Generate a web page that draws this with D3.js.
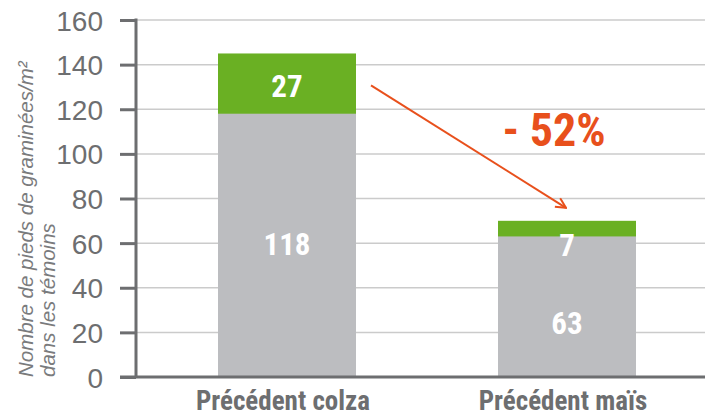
<!DOCTYPE html>
<html>
<head>
<meta charset="utf-8">
<script src="https://d3js.org/d3.v7.min.js"></script>
<style>
  body { margin: 0; background: #fff; }
  text { font-family: "Liberation Sans Narrow", "Roboto Condensed", "Arial Narrow", sans-serif; }
</style>
</head>
<body>
<svg width="705" height="418"></svg>
<script>
// data
var categories = ["Précédent colza", "Précédent maïs"];
var grayValues = [118, 63];
var greenValues = [27, 7];
var yTicks = [0, 20, 40, 60, 80, 100, 120, 140, 160];
var changeLabel = "- 52%";

var svg = d3.select("svg");
var gray = "#bcbdc0", green = "#6ab023", orange = "#e8501c", dark = "#6d6e70";

var x = d3.scaleBand().domain(categories).range([147, 707]).paddingInner(0.507).paddingOuter(0.25).round(true);
var y = d3.scaleLinear().domain([0, 160]).range([377, 20]);

// grid lines
svg.selectAll(".grid").data(yTicks.slice(1)).enter().append("line")
    .attr("x1", 136).attr("x2", 705)
    .attr("y1", function (d) { return y(d); })
    .attr("y2", function (d) { return y(d); })
    .attr("stroke", "#cbcbcb").attr("stroke-width", 1.5);

// bars
var bar = svg.selectAll(".bar").data(categories).enter().append("g");
bar.append("rect")
    .attr("x", function (d) { return x(d); })
    .attr("width", x.bandwidth())
    .attr("y", function (d, i) { return y(grayValues[i] + greenValues[i]); })
    .attr("height", function (d, i) { return y(grayValues[i]) - y(grayValues[i] + greenValues[i]) + 1; })
    .attr("fill", green);
bar.append("rect")
    .attr("x", function (d) { return x(d); })
    .attr("width", x.bandwidth())
    .attr("y", function (d, i) { return y(grayValues[i]); })
    .attr("height", function (d, i) { return y(0) - y(grayValues[i]); })
    .attr("fill", gray);

// value labels
bar.append("text")
    .attr("x", function (d) { return x(d) + x.bandwidth() / 2; })
    .attr("y", function (d, i) { return i === 0 ? y(grayValues[i] / 2) + 10 : y(grayValues[i] / 2) + 27; })
    .attr("text-anchor", "middle").attr("fill", "#fff")
    .attr("font-size", 31).attr("font-weight", "bold")
    .text(function (d, i) { return grayValues[i]; });
bar.append("text")
    .attr("x", function (d) { return x(d) + x.bandwidth() / 2; })
    .attr("y", function (d, i) { return i === 0 ? y(grayValues[i] + greenValues[i] / 2) + 13 : y(grayValues[i]) + 20; })
    .attr("text-anchor", "middle").attr("fill", "#fff")
    .attr("font-size", 31).attr("font-weight", "bold")
    .text(function (d, i) { return greenValues[i]; });

// y axis
var yAxis = d3.axisLeft(y).tickValues(yTicks).tickSize(16).tickPadding(17);
var ga = svg.append("g").attr("transform", "translate(136,0)").call(yAxis);
ga.select(".domain").remove();
ga.selectAll(".tick line").attr("stroke", dark).attr("stroke-width", 3);
ga.selectAll(".tick text").attr("fill", dark).attr("font-size", 28)
    .style("font-family", "'Liberation Sans Narrow', sans-serif").attr("dy", "0.36em");
svg.append("line").attr("x1", 136).attr("x2", 136).attr("y1", y(160) - 1.5).attr("y2", y(0))
    .attr("stroke", dark).attr("stroke-width", 3);
svg.append("line").attr("x1", 120).attr("x2", 705).attr("y1", y(0)).attr("y2", y(0))
    .attr("stroke", dark).attr("stroke-width", 3);

// category labels
svg.selectAll(".cat").data(categories).enter().append("text")
    .attr("x", function (d) { return x(d) + x.bandwidth() / 2 - 4; })
    .attr("y", 410)
    .attr("text-anchor", "middle").attr("fill", dark)
    .attr("font-size", 27).attr("font-weight", "bold")
    .text(function (d) { return d; });

// y title
var title = svg.append("text")
    .attr("transform", "translate(0," + y(0) + ") rotate(-90)")
    .attr("fill", "#7a7b7d").attr("font-size", 20.5).attr("font-style", "italic")
    .style("font-family", "'Liberation Sans Narrow', sans-serif");
title.append("tspan").attr("x", 0).attr("y", 33).text("Nombre de pieds de graminées/m²");
title.append("tspan").attr("x", 0).attr("y", 55).text("dans les témoins");

// arrow
svg.append("defs").append("marker")
    .attr("id", "arrow").attr("viewBox", "0 -6 12 12")
    .attr("refX", 11).attr("refY", 0)
    .attr("markerWidth", 12).attr("markerHeight", 12)
    .attr("markerUnits", "userSpaceOnUse")
    .attr("orient", "auto")
    .append("path").attr("d", "M1,-5L11,0L1,5")
    .attr("fill", "none").attr("stroke", orange).attr("stroke-width", 2);
var x0 = x(categories[0]) + x.bandwidth() + 15, x1 = x(categories[1]) + x.bandwidth() / 2 - 1;
svg.append("line")
    .attr("x1", x0).attr("y1", y(grayValues[0] + greenValues[0]) + 32)
    .attr("x2", x1).attr("y2", y(grayValues[1] + greenValues[1]) - 13)
    .attr("stroke", orange).attr("stroke-width", 2)
    .attr("marker-end", "url(#arrow)");

svg.append("text")
    .attr("x", 554).attr("y", 146)
    .attr("text-anchor", "middle").attr("fill", orange)
    .attr("font-size", 46).attr("font-weight", "bold")
    .text(changeLabel);
</script>
</body>
</html>
